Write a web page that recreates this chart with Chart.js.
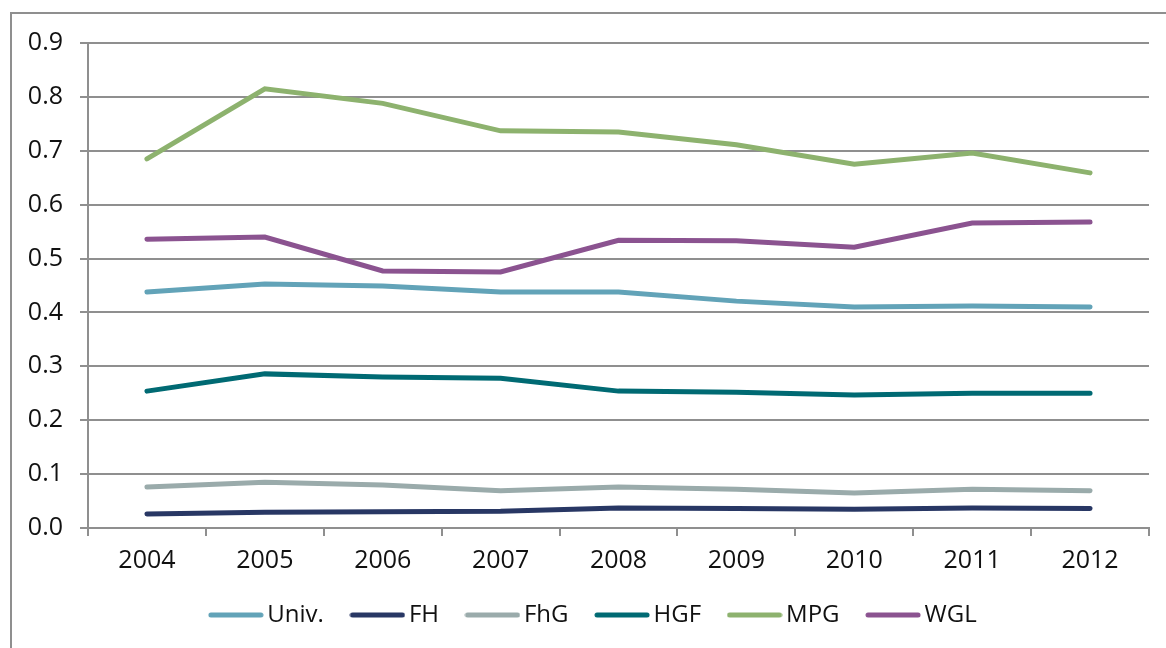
<!DOCTYPE html>
<html>
<head>
<meta charset="utf-8">
<script src="https://cdn.jsdelivr.net/npm/chart.js@4"></script>
<style>
  html, body { margin: 0; padding: 0; background: #fff; }
  #wrap { width: 1166px; height: 648px; position: relative; }
</style>
</head>
<body>
<div id="wrap"><canvas id="myChart" width="1166" height="648"></canvas></div>
<script>
// Jahre auf der x-Achse
const years = ['2004', '2005', '2006', '2007', '2008', '2009', '2010', '2011', '2012'];

// Werte je Organisation
const univ = [0.438, 0.453, 0.449, 0.438, 0.438, 0.421, 0.410, 0.412, 0.410];
const fh   = [0.026, 0.029, 0.030, 0.031, 0.037, 0.036, 0.035, 0.037, 0.036];
const fhg  = [0.076, 0.085, 0.080, 0.069, 0.076, 0.072, 0.065, 0.072, 0.069];
const hgf  = [0.254, 0.286, 0.280, 0.278, 0.254, 0.252, 0.247, 0.250, 0.250];
const mpg  = [0.685, 0.815, 0.788, 0.737, 0.735, 0.711, 0.675, 0.696, 0.659];
const wgl  = [0.536, 0.540, 0.477, 0.475, 0.534, 0.533, 0.521, 0.566, 0.568];

const seriesNames = ['Univ.', 'FH', 'FhG', 'HGF', 'MPG', 'WGL'];
const seriesData = [univ, fh, fhg, hgf, mpg, wgl];
const seriesColors = ['#62a3b8', '#283764', '#9aabab', '#006a73', '#8db26e', '#8b5390'];

const gridColor = '#8f8f8f';
const fontFamily = '"Open Sans", "Noto Sans", sans-serif';

// kleines Linien-Symbol für die Legende (55px breit)
function legendLine(color) {
    const c = document.createElement('canvas');
    c.width = 56;
    c.height = 8;
    const ctx = c.getContext('2d');
    ctx.strokeStyle = color;
    ctx.lineWidth = 5;
    ctx.lineCap = 'round';
    ctx.beginPath();
    ctx.moveTo(3, 4);
    ctx.lineTo(53, 4);
    ctx.stroke();
    return c;
}

// Rahmen links und oben (rechts/unten abgeschnitten wie im Original)
const frame = {
    id: 'frame',
    beforeDraw(chart) {
        const ctx = chart.ctx;
        ctx.save();
        ctx.strokeStyle = gridColor;
        ctx.lineWidth = 2;
        ctx.beginPath();
        ctx.moveTo(11, 648);
        ctx.lineTo(11, 13);
        ctx.lineTo(1166, 13);
        ctx.stroke();
        ctx.restore();
    }
};

// Legende etwas kompakter und nach rechts/oben verschoben
const legendPlace = {
    id: 'legendPlace',
    beforeInit(chart) {
        const fit = chart.legend.fit;
        chart.legend.fit = function () {
            fit.call(this);
            this.height -= 6;
        };
    },
    afterLayout(chart) {
        const lg = chart.legend;
        lg.left += 22;
        lg.right += 22;
        lg.top -= 17;
        lg.bottom -= 17;
    }
};

const datasets = seriesNames.map((name, i) => ({
    label: name,
    data: seriesData[i],
    borderColor: seriesColors[i],
    backgroundColor: seriesColors[i],
    borderWidth: 5,
    borderCapStyle: 'round',
    borderJoinStyle: 'miter',
    pointStyle: legendLine(seriesColors[i]),
    pointRadius: 0,
    pointHoverRadius: 0,
    tension: 0
}));

new Chart(document.getElementById('myChart'), {
    type: 'line',
    data: { labels: years, datasets: datasets },
    plugins: [frame, legendPlace],
    options: {
        responsive: false,
        animation: false,
        layout: { padding: { top: 43, right: 17, bottom: 0, left: 0 } },
        scales: {
            x: {
                offset: true,
                grid: { offset: true, drawOnChartArea: false, drawTicks: true, tickLength: 8, color: gridColor, lineWidth: 2 },
                border: { display: true, color: gridColor, width: 2 },
                ticks: { color: '#111', font: { family: fontFamily, size: 25 }, padding: 10 }
            },
            y: {
                min: 0,
                max: 0.9,
                afterFit(scale) { scale.width = 88; },
                grid: { color: gridColor, lineWidth: 2, drawTicks: true, tickLength: 8 },
                border: { display: true, color: gridColor, width: 2 },
                ticks: {
                    stepSize: 0.1,
                    color: '#111',
                    padding: 17,
                    font: { family: fontFamily, size: 25 },
                    callback: v => v.toFixed(1)
                }
            }
        },
        plugins: {
            tooltip: { enabled: false },
            legend: {
                position: 'bottom',
                labels: {
                    usePointStyle: true,
                    pointStyleWidth: 39,
                    color: '#111',
                    padding: 34,
                    font: { family: fontFamily, size: 24 }
                }
            }
        }
    }
});
</script>
</body>
</html>
